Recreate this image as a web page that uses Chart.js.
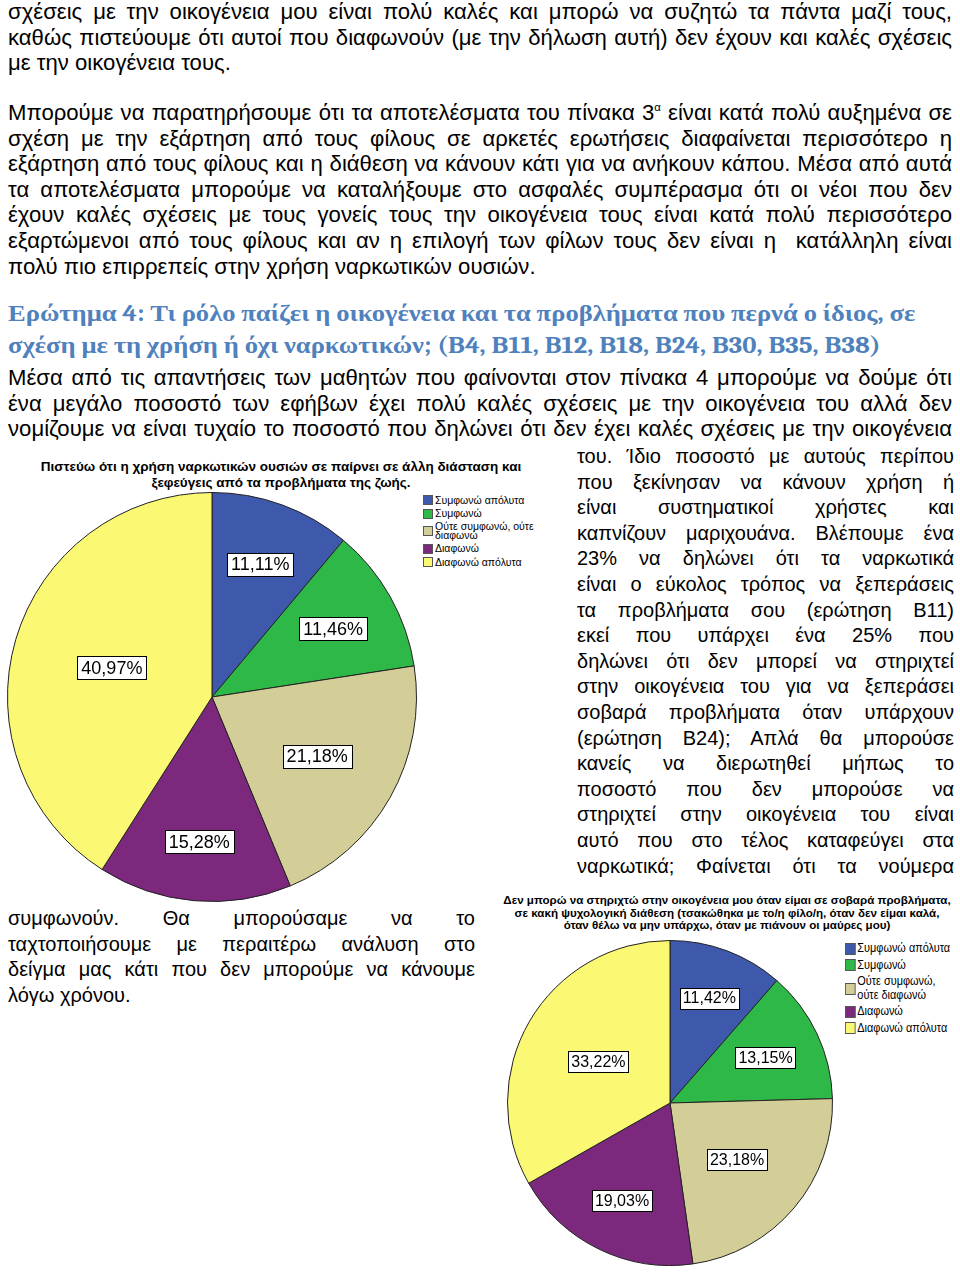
<!DOCTYPE html>
<html>
<head>
<meta charset="utf-8">
<script src="https://cdn.jsdelivr.net/npm/chart.js@4.4.1/dist/chart.umd.min.js"></script>
<style>
  html, body { margin: 0; padding: 0; background: #fff; }
  body { position: relative; width: 960px; height: 1275px; overflow: hidden; font-family: "Liberation Sans", Arial, sans-serif; color: #000; }
  .blk { position: absolute; font-size: 20px; line-height: 25.6px; }
  .narrow { font-size: 21.5px; transform-origin: 0 0; }
  .ln { text-align: justify; text-align-last: justify; }
  .ln.l { text-align-last: left; }
  .head { position: absolute; left: 8px; width: 820px; font-family: Cambria, "Liberation Serif", serif; font-weight: bold; font-size: 23.5px; line-height: 32px; color: #4f81bd; transform: scaleX(1.13); transform-origin: 0 0; white-space: nowrap; }
  .title { position: absolute; text-align: center; font-weight: bold; }
  .legend { position: absolute; transform-origin: 0 0; }
  .legend .item { display: flex; align-items: center; }
  .legend .sw { flex: none; box-sizing: border-box; border: 1px solid #555; margin-right: 2px; }
  .chartBox { position: absolute; }
  sup { font-size: 11px; line-height: 0; vertical-align: 9px; }
</style>
</head>
<body>

<div class="blk narrow" style="left:8px; top:0px">
  <div class="ln">σχέσεις με την οικογένεια μου είναι πολύ καλές και μπορώ να συζητώ τα πάντα μαζί τους,</div>
  <div class="ln">καθώς πιστεύουμε ότι αυτοί που διαφωνούν (με την δήλωση αυτή) δεν έχουν και καλές σχέσεις</div>
  <div class="ln l">με την οικογένεια τους.</div>
</div>

<div class="blk narrow" style="left:8px; top:101px">
  <div class="ln">Μπορούμε να παρατηρήσουμε ότι τα αποτελέσματα του πίνακα 3<sup>α</sup> είναι κατά πολύ αυξημένα σε</div>
  <div class="ln">σχέση με την εξάρτηση από τους φίλους σε αρκετές ερωτήσεις διαφαίνεται περισσότερο η</div>
  <div class="ln">εξάρτηση από τους φίλους και η διάθεση να κάνουν κάτι για να ανήκουν κάπου. Μέσα από αυτά</div>
  <div class="ln">τα αποτελέσματα μπορούμε να καταλήξουμε στο ασφαλές συμπέρασμα ότι οι νέοι που δεν</div>
  <div class="ln">έχουν καλές σχέσεις με τους γονείς τους την οικογένεια τους είναι κατά πολύ περισσότερο</div>
  <div class="ln">εξαρτώμενοι από τους φίλους και αν η επιλογή των φίλων τους δεν είναι η &nbsp;κατάλληλη είναι</div>
  <div class="ln l">πολύ πιο επιρρεπείς στην χρήση ναρκωτικών ουσιών.</div>
</div>

<div class="head" style="top:298px">
  <div>Ερώτημα 4: Τι ρόλο παίζει η οικογένεια και τα προβλήματα που περνά ο ίδιος, σε</div>
  <div>σχέση με τη χρήση ή όχι ναρκωτικών; (B4, B11, B12, B18, B24, B30, B35, B38)</div>
</div>

<div class="blk narrow" style="left:8px; top:366px">
  <div class="ln">Μέσα από τις απαντήσεις των μαθητών που φαίνονται στον πίνακα 4 μπορούμε να δούμε ότι</div>
  <div class="ln">ένα μεγάλο ποσοστό των εφήβων έχει πολύ καλές σχέσεις με την οικογένεια του αλλά δεν</div>
  <div class="ln">νομίζουμε να είναι τυχαίο το ποσοστό που δηλώνει ότι δεν έχει καλές σχέσεις με την οικογένεια</div>
</div>

<div class="blk" style="left:577px; width:377px; top:444px">
  <div class="ln">του. Ίδιο ποσοστό με αυτούς περίπου</div>
  <div class="ln">που ξεκίνησαν να κάνουν χρήση ή</div>
  <div class="ln">είναι συστηματικοί χρήστες και</div>
  <div class="ln">καπνίζουν μαριχουάνα. Βλέπουμε ένα</div>
  <div class="ln">23% να δηλώνει ότι τα ναρκωτικά</div>
  <div class="ln">είναι ο εύκολος τρόπος να ξεπεράσεις</div>
  <div class="ln">τα προβλήματα σου (ερώτηση B11)</div>
  <div class="ln">εκεί που υπάρχει ένα 25% που</div>
  <div class="ln">δηλώνει ότι δεν μπορεί να στηριχτεί</div>
  <div class="ln">στην οικογένεια του για να ξεπεράσει</div>
  <div class="ln">σοβαρά προβλήματα όταν υπάρχουν</div>
  <div class="ln">(ερώτηση B24); Απλά θα μπορούσε</div>
  <div class="ln">κανείς να διερωτηθεί μήπως το</div>
  <div class="ln">ποσοστό που δεν μπορούσε να</div>
  <div class="ln">στηριχτεί στην οικογένεια του είναι</div>
  <div class="ln">αυτό που στο τέλος καταφεύγει στα</div>
  <div class="ln">ναρκωτικά; Φαίνεται ότι τα νούμερα</div>
</div>

<div class="blk" style="left:8px; width:467px; top:906px">
  <div class="ln">συμφωνούν. Θα μπορούσαμε να το</div>
  <div class="ln">ταχτοποιήσουμε με περαιτέρω ανάλυση στο</div>
  <div class="ln">δείγμα μας κάτι που δεν μπορούμε να κάνουμε</div>
  <div class="ln l">λόγω χρόνου.</div>
</div>

<!-- chart 1 -->
<div class="title" style="left:20px; width:522px; top:459px; font-size:13.5px; line-height:16px">
  <div>Πιστεύω ότι η χρήση ναρκωτικών ουσιών σε παίρνει σε άλλη διάσταση και</div>
  <div>ξεφεύγεις από τα προβλήματα της ζωής.</div>
</div>
<div class="chartBox" style="left:7px; top:492px; width:410px; height:410px">
  <canvas id="pie1" width="410" height="410"></canvas>
</div>
<div class="legend" id="legend1" style="left:423px; top:495px; font-size:10.5px; line-height:9px"></div>

<!-- chart 2 -->
<div class="title" style="left:492px; width:470px; top:894px; font-size:11.6px; line-height:12.6px">
  <div>Δεν μπορώ να στηριχτώ στην οικογένεια μου όταν είμαι σε σοβαρά προβλήματα,</div>
  <div>σε κακή ψυχολογική διάθεση (τσακώθηκα με το/η φίλο/η, όταν δεν είμαι καλά,</div>
  <div>όταν θέλω να μην υπάρχω, όταν με πιάνουν οι μαύρες μου)</div>
</div>
<div class="chartBox" style="left:507px; top:940px; width:326px; height:326px">
  <canvas id="pie2" width="326" height="326"></canvas>
</div>
<div class="legend" id="legend2" style="left:845px; top:942px; font-size:12.4px; line-height:13.5px; transform:scaleX(0.88)"></div>

<script>
const categories = ['Συμφωνώ απόλυτα', 'Συμφωνώ', 'Ούτε συμφωνώ, ούτε διαφωνώ', 'Διαφωνώ', 'Διαφωνώ απόλυτα']
const drugEscapeValues = [11.11, 11.46, 21.18, 15.28, 40.97]      // B11
const familySupportValues = [11.42, 13.15, 23.18, 19.03, 33.22]   // B24

const sliceColors = ['#3e58ac', '#2eb848', '#d3ce97', '#7b287d', '#fbf873']

// how far out (share of radius) each percentage box sits, like the SPSS export
const labelRadius1 = [0.69, 0.68, 0.59, 0.71, 0.51]
const labelRadius2 = [0.69, 0.65, 0.54, 0.67, 0.51]

const textWidth = 944

// no Arial Narrow here: squeeze the wide paragraphs so the tightest line just fits
function squeezeNarrow() {
    let blocks = document.querySelectorAll('.narrow')
    let widest = 0
    blocks.forEach(b => {
        b.style.width = '3000px'
        b.querySelectorAll('.ln').forEach(el => {
            let html = el.innerHTML
            el.style.textAlignLast = 'left'
            el.innerHTML = `<span style="white-space:nowrap">${html}</span>`
            widest = Math.max(widest, el.firstChild.getBoundingClientRect().width)
            el.innerHTML = html
            el.style.textAlignLast = ''
        })
    })
    let s = textWidth * 0.99 / widest
    blocks.forEach(b => {
        b.style.width = (textWidth / s) + 'px'
        b.style.transform = `scaleX(${s})`
    })
}

// fit text lines that would wrap
function fitLines() {
    document.querySelectorAll('.blk:not(.narrow) .ln, .title div').forEach(el => {
        el.style.whiteSpace = 'nowrap'
        if (el.scrollWidth > el.clientWidth) {
            let fs = parseFloat(getComputedStyle(el).fontSize)
            el.style.fontSize = (fs * el.clientWidth / el.scrollWidth * 0.985) + 'px'
        }
        el.style.whiteSpace = 'normal'
    })
}

function buildLegend(id, box, textW, gap) {
    let legend = document.getElementById(id)
    categories.forEach((name, i) => {
        let item = document.createElement('div')
        item.classList.add('item')
        item.style.marginBottom = gap + 'px'
        let sw = document.createElement('div')
        sw.classList.add('sw')
        sw.style.width = box + 'px'
        sw.style.height = box + 'px'
        sw.style.backgroundColor = sliceColors[i]
        let txt = document.createElement('div')
        txt.innerText = name
        txt.style.width = textW + 'px'
        item.appendChild(sw)
        item.appendChild(txt)
        legend.appendChild(item)
    })
}

const percentLabels = {
    id: 'percentLabels',
    afterDatasetsDraw(chart, args, opts) {
        let ctx = chart.ctx
        let meta = chart.getDatasetMeta(0)
        let values = chart.data.datasets[0].data
        ctx.save()
        ctx.font = `${opts.size}px "Liberation Sans", Arial, sans-serif`
        ctx.textAlign = 'center'
        ctx.textBaseline = 'middle'
        meta.data.forEach((arc, i) => {
            let p = arc.getProps(['x', 'y', 'startAngle', 'endAngle', 'outerRadius'], true)
            let mid = (p.startAngle + p.endAngle) / 2
            let r = p.outerRadius * opts.radius[i]
            let x = p.x + Math.cos(mid) * r
            let y = p.y + Math.sin(mid) * r
            let text = values[i].toFixed(2).replace('.', ',') + '%'
            let w = ctx.measureText(text).width + opts.padX * 2
            let h = opts.boxH
            ctx.fillStyle = '#fff'
            ctx.fillRect(Math.round(x - w / 2) + 0.5, Math.round(y - h / 2) + 0.5, Math.round(w), h)
            ctx.strokeStyle = '#000'
            ctx.lineWidth = 1
            ctx.strokeRect(Math.round(x - w / 2) + 0.5, Math.round(y - h / 2) + 0.5, Math.round(w), h)
            ctx.fillStyle = '#000'
            ctx.fillText(text, x, y + 1)
        })
        ctx.restore()
    }
}

function makePie(canvasId, values, radius, size, padX, boxH) {
    return new Chart(document.getElementById(canvasId).getContext('2d'), {
        type: 'pie',
        data: {
            labels: categories,
            datasets: [{
                data: values,
                backgroundColor: sliceColors,
                borderColor: '#222',
                borderWidth: 1
            }]
        },
        options: {
            responsive: false,
            animation: false,
            devicePixelRatio: 1,
            layout: { padding: 0 },
            plugins: {
                legend: { display: false },
                tooltip: { enabled: false },
                title: { display: false },
                percentLabels: { radius: radius, size: size, padX: padX, boxH: boxH }
            }
        },
        plugins: [percentLabels]
    })
}

buildLegend('legend1', 10, 102, 3.5)
buildLegend('legend2', 12, 112, 3)
squeezeNarrow()
fitLines()

makePie('pie1', drugEscapeValues, labelRadius1, 18, 4, 23)
makePie('pie2', familySupportValues, labelRadius2, 16, 3, 21)
</script>
</body>
</html>
